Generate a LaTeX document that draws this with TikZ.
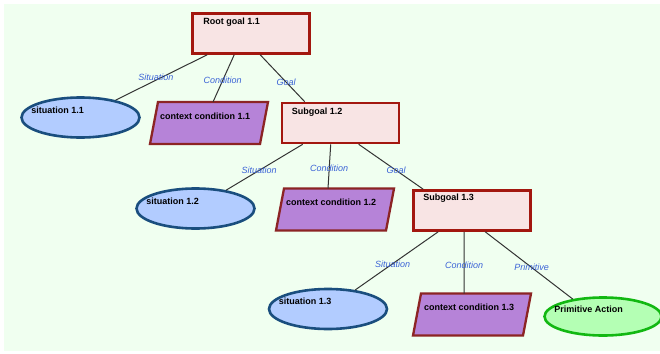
\documentclass[tikz,border=0pt]{standalone}
\usepackage{fontspec}
\setmainfont{Liberation Sans}
\usetikzlibrary{shapes.geometric,calc}

\definecolor{bgfill}{HTML}{F0FFF0}
\definecolor{goalfill}{HTML}{F8E4E4}
\definecolor{goalline}{HTML}{A3170F}
\definecolor{sitfill}{HTML}{B2CCFF}
\definecolor{sitline}{HTML}{1A4E7E}
\definecolor{condfill}{HTML}{B683D8}
\definecolor{condline}{HTML}{8C2424}
\definecolor{actfill}{HTML}{B4FFB4}
\definecolor{actline}{HTML}{12B812}
\definecolor{lblblue}{HTML}{3A62D6}
\definecolor{linkgray}{HTML}{333333}

% slanted outline drawn over the frame of a condition node
\newcommand{\condoutline}[1]{%
  \filldraw[condshape] (#1.south west) -- ([xshift=8pt]#1.north west)
    -- (#1.north east) -- ([xshift=-8pt]#1.south east) -- cycle;}

\begin{document}
\begin{tikzpicture}[x=1pt,y=-1pt,
  goalbox/.style={rectangle, draw=goalline, fill=goalfill, line width=2.6pt,
    minimum width=117pt, minimum height=40pt, inner sep=0pt},
  sitnode/.style={ellipse, draw=sitline, fill=sitfill, line width=2.6pt,
    minimum width=118pt, minimum height=40pt, inner sep=0pt},
  condnode/.style={rectangle, minimum width=118pt, minimum height=42pt,
    inner sep=0pt, outer sep=0pt},
  condshape/.style={draw=condline, fill=condfill, line width=2.3pt, line join=miter},
  actnode/.style={ellipse, draw=actline, fill=actfill, line width=2.6pt,
    minimum width=117pt, minimum height=38pt, inner sep=0pt},
  txt/.style={font=\fontsize{9}{10}\selectfont\bfseries, anchor=west,
    inner sep=0pt, text=black},
  lbl/.style={font=\fontsize{9}{10}\selectfont\itshape, text=lblblue, inner sep=0pt},
  link/.style={draw=linkgray, line width=1pt}
]
% canvas and background
\clip (0,0) rectangle (660,353);
\fill[white] (0,0) rectangle (660,353);
\fill[bgfill] (4,4) rectangle (660,351);

% shapes
\node[goalbox]  (root)  at (251,33.5)  {};
\node[sitnode]  (sit11) at (80.5,117.5) {};
\node[condnode] (cc11)  at (209,123)   {};
\condoutline{cc11}
\node[goalbox]  (sub12) at (340.5,123) {};
\node[sitnode]  (sit12) at (195.5,208.5) {};
\node[condnode] (cc12)  at (335,209.5) {};
\condoutline{cc12}
\node[goalbox]  (sub13) at (472,210.5) {};
\node[sitnode]  (sit13) at (328,309)   {};
\node[condnode] (cc13)  at (472,314.5) {};
\condoutline{cc13}
\node[actnode]  (act)   at (603,316.5) {};

% texts
\node[txt] (troot)  at ($(root.north west)+(12pt,-10pt)$) {Root goal 1.1};
\node[txt] (tsit11) at ($(sit11.west |- sit11.north)+(11pt,-14pt)$) {situation 1.1};
\node[txt] (tcc11)  at ($(cc11.north west)+(10pt,-14pt)$) {context condition 1.1};
\node[txt] (tsub12) at ($(sub12.north west)+(11pt,-10pt)$) {Subgoal 1.2};
\node[txt] (tsit12) at ($(sit12.west |- sit12.north)+(11pt,-14pt)$) {situation 1.2};
\node[txt] (tcc12)  at ($(cc12.north west)+(10pt,-14pt)$) {context condition 1.2};
\node[txt] (tsub13) at ($(sub13.north west)+(11pt,-9pt)$) {Subgoal 1.3};
\node[txt] (tsit13) at ($(sit13.west |- sit13.north)+(11pt,-14pt)$) {situation 1.3};
\node[txt] (tcc13)  at ($(cc13.north west)+(11pt,-14pt)$) {context condition 1.3};
\node[txt] (tact)   at ($(act.west |- act.north)+(11pt,-13pt)$) {Primitive Action};

% connectors
\draw[link] ([xshift=16pt]root.south west) -- (sit11)
  node[lbl, pos=0.56, yshift=3pt] {Situation};
\draw[link] ([xshift=43pt]root.south west) -- ([xshift=63pt]cc11.north west)
  node[lbl, pos=0.55] {Condition};
\draw[link] ([xshift=69pt]root.south west) -- ([xshift=24pt]sub12.north west)
  node[lbl, pos=0.58] {Goal};

\draw[link] ([xshift=22pt]sub12.south west) -- (sit12)
  node[lbl, pos=0.57] {Situation};
\draw[link] ([xshift=50pt]sub12.south west) -- ([xshift=52pt]cc12.north west)
  node[lbl, pos=0.55] {Condition};
\draw[link] ([xshift=78pt]sub12.south west) -- ([xshift=11pt]sub13.north west)
  node[lbl, pos=0.58] {Goal};

\draw[link] ([xshift=26pt]sub13.south west) -- (sit13)
  node[lbl, pos=0.55] {Situation};
\draw[link] ([xshift=52pt]sub13.south west) -- ([xshift=51pt]cc13.north west)
  node[lbl, pos=0.54] {Condition};
\draw[link] ([xshift=73pt]sub13.south west) -- (act.150)
  node[lbl, pos=0.53] {Primitive};
\end{tikzpicture}
\end{document}
